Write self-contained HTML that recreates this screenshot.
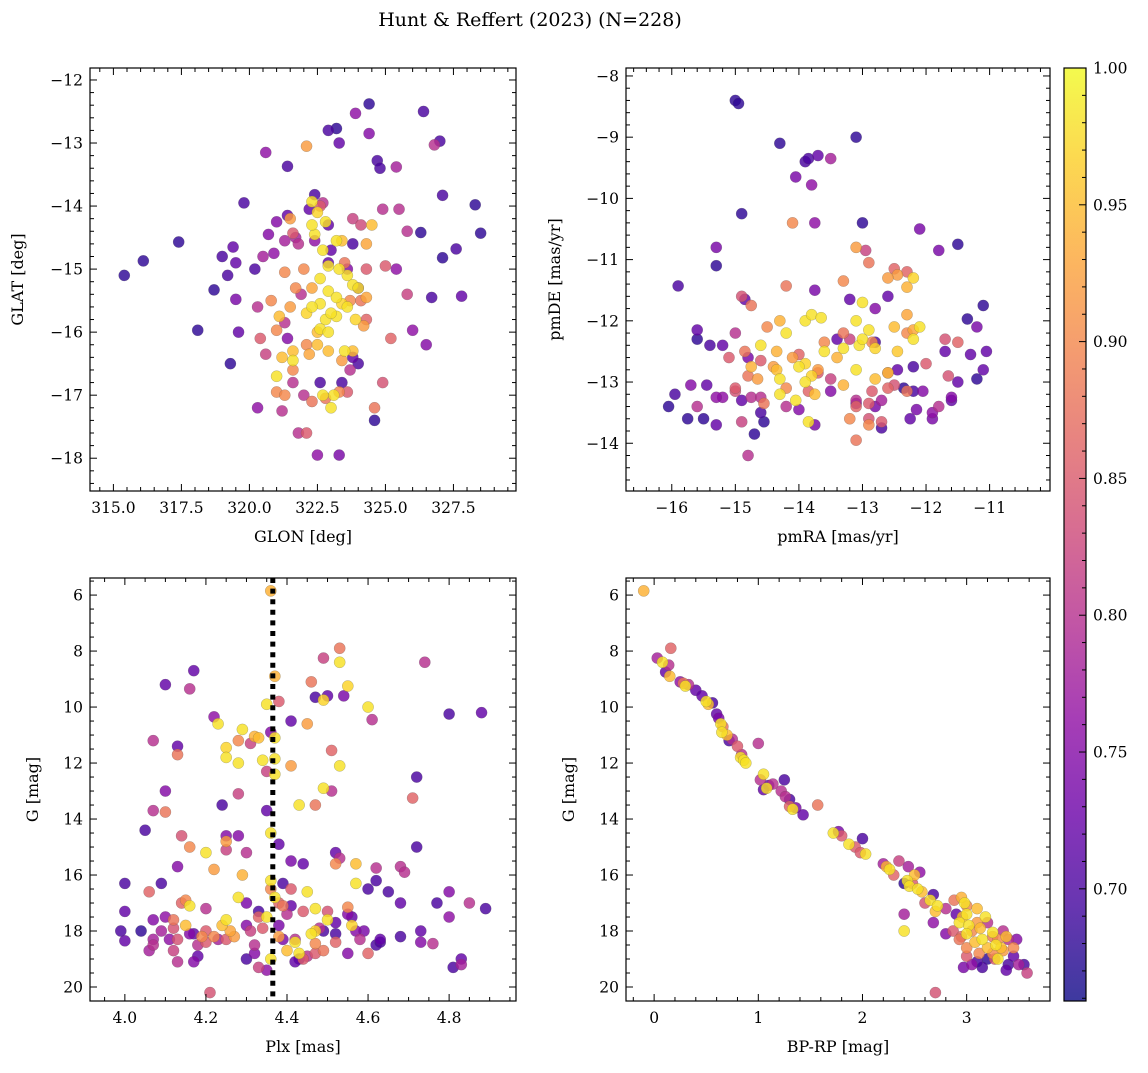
<!DOCTYPE html>
<html><head><meta charset="utf-8">
<style>
html,body{margin:0;padding:0;background:#fff;}
svg text{font-family:"DejaVu Serif","Liberation Serif",serif;fill:#000;}
</style></head>
<body>
<svg id="fig" width="1148" height="1068" viewBox="0 0 1148 1068" xmlns="http://www.w3.org/2000/svg">
<defs>
<linearGradient id="plasma" x1="0" y1="1" x2="0" y2="0">
<stop offset="0" stop-color="#0d0887"/><stop offset="0.1" stop-color="#41049d"/><stop offset="0.2" stop-color="#6a00a8"/><stop offset="0.3" stop-color="#8f0da4"/><stop offset="0.4" stop-color="#b12a90"/><stop offset="0.5" stop-color="#cc4778"/><stop offset="0.6" stop-color="#e16462"/><stop offset="0.7" stop-color="#f2844b"/><stop offset="0.8" stop-color="#fca636"/><stop offset="0.9" stop-color="#fcce25"/><stop offset="1" stop-color="#f0f921"/>
</linearGradient>
</defs>
<text x="530" y="26" font-size="19" text-anchor="middle">Hunt &amp; Reffert (2023) (N=228)</text>
</svg>
<script>
const skyPoints=[[315.4,-15.1,.68],[316.1,-14.87,.68],[317.4,-14.57,.68],[318.1,-15.97,.68],[318.7,-15.33,.68],[319.0,-14.8,.7],[319.2,-15.1,.7],[319.3,-16.5,.68],[319.4,-14.65,.72],[319.5,-14.9,.72],[319.5,-15.48,.74],[319.6,-16,.72],[319.8,-13.95,.7],[320.2,-15,.7],[320.3,-17.2,.76],[320.6,-13.15,.76],[320.7,-14.45,.75],[321.0,-14.25,.75],[321.4,-13.37,.7],[321.6,-16.8,.8],[321.8,-17.6,.8],[322.1,-17.6,.85],[322.5,-17.95,.76],[322.9,-12.8,.7],[323.2,-12.77,.68],[323.3,-17.95,.74],[323.3,-13.0,.72],[323.9,-12.53,.76],[324.4,-12.38,.68],[324.4,-12.85,.75],[324.7,-13.28,.7],[324.8,-13.4,.7],[325.4,-13.38,.78],[324.6,-17.4,.68],[326.4,-12.5,.7],[326.8,-13.03,.8],[327.0,-12.97,.7],[327.1,-13.83,.7],[327.1,-14.82,.68],[327.6,-14.68,.7],[327.8,-15.43,.72],[328.3,-13.98,.68],[328.5,-14.43,.68],[326.7,-15.45,.7],[326.3,-14.42,.68],[326.5,-16.2,.75],[326.0,-15.97,.76],[325.2,-16.1,.86],[324.9,-16.8,.84],[325.8,-15.4,.82],[325.8,-14.4,.8],[325.5,-14.05,.8],[325.0,-14.95,.85],[325.4,-15.0,.76],[323.8,-14.6,.7],[323.6,-15.0,.75],[322.9,-14.3,.72],[322.4,-14.55,.76],[322.4,-13.82,.7],[322.2,-14.05,.72],[321.8,-14.6,.8],[321.4,-14.15,.72],[321.3,-14.55,.78],[320.9,-14.75,.76],[320.5,-14.8,.78],[320.3,-15.6,.8],[321.0,-15.97,.9],[320.8,-15.5,.9],[320.4,-16.1,.85],[320.6,-16.35,.82],[321.4,-16.1,.75],[321.3,-15.85,.8],[321.9,-15.4,.8],[321.7,-15.3,.9],[322.0,-15.0,.9],[321.3,-15.05,.9],[321.1,-15.75,.95],[321.5,-15.6,.92],[321.2,-16.4,.95],[321.6,-16.3,.95],[321.6,-16.45,.98],[322.1,-16.2,.9],[322.2,-16.35,.93],[322.5,-16.2,.95],[322.9,-16.3,.95],[321.6,-16.6,.9],[321.0,-16.7,.98],[321.0,-16.95,.9],[321.2,-17.25,.8],[321.3,-17.0,.9],[322.3,-17.1,.88],[322.0,-17.0,.8],[322.6,-16.8,.7],[322.7,-17.0,.98],[323.1,-17.0,.98],[323.3,-16.95,.9],[323.6,-16.95,.85],[323.0,-17.2,.98],[322.8,-17.05,.88],[323.4,-16.8,.7],[324.6,-17.2,.88],[323.7,-16.6,.8],[323.8,-16.4,.72],[324.0,-16.5,.7],[323.8,-16.3,.95],[323.5,-16.3,.98],[323.4,-16.45,.92],[324.3,-15.8,.86],[324.1,-15.5,.88],[324.3,-15.45,.93],[323.6,-15.6,.98],[323.9,-15.8,.97],[323.4,-15.55,.97],[323.2,-15.75,.98],[322.8,-15.8,.98],[322.6,-15.55,.98],[322.3,-15.6,.98],[322.9,-15.35,.98],[323.2,-15.45,.98],[323.6,-15.1,.98],[323.8,-15.25,.98],[323.7,-15.5,.9],[324.0,-15.3,.98],[323.3,-15.0,.98],[322.7,-14.7,.98],[322.4,-14.45,.98],[322.9,-14.95,.98],[322.3,-15.3,.93],[322.6,-15.15,.98],[322.1,-15.7,.97],[322.6,-15.95,.98],[322.9,-16.0,.98],[323.0,-15.7,.98],[322.5,-16.0,.95],[324.3,-15.0,.85],[324.5,-14.3,.95],[324.3,-14.6,.93],[324.1,-14.3,.83],[323.8,-14.2,.82],[324.9,-14.05,.8],[323.2,-14.55,.98],[323.4,-14.55,.95],[322.8,-14.25,.98],[322.5,-14.1,.97],[322.3,-14.3,.98],[322.3,-13.93,.98],[322.6,-14.0,.85],[321.7,-14.5,.78],[321.5,-14.2,.92],[321.6,-14.43,.85],[322.7,-13.95,.8],[322.1,-13.05,.92],[323.0,-14.7,.72],[323.5,-14.9,.88],[324.2,-15.9,.92],[324.0,-15.3,.72],[322.9,-14.9,.72]];
const pmPoints=[[-15.0,-8.4,.68],[-14.95,-8.45,.68],[-14.3,-9.1,.68],[-13.1,-9.0,.68],[-13.9,-9.4,.7],[-13.85,-9.35,.7],[-13.7,-9.3,.72],[-13.5,-9.35,.78],[-13.8,-9.78,.76],[-14.05,-9.65,.74],[-14.9,-10.25,.68],[-13.0,-10.4,.68],[-14.1,-10.4,.9],[-13.75,-10.4,.76],[-12.1,-10.5,.74],[-15.3,-10.8,.74],[-15.3,-11.1,.68],[-11.5,-10.75,.68],[-11.8,-10.85,.74],[-15.9,-11.43,.7],[-14.9,-11.6,.84],[-14.85,-11.65,.72],[-14.75,-11.75,.88],[-14.2,-11.43,.88],[-13.75,-11.5,.74],[-13.3,-11.35,.9],[-13.1,-10.8,.92],[-12.95,-10.85,.82],[-12.9,-11.05,.88],[-12.5,-11.15,.86],[-12.45,-11.25,.92],[-12.3,-11.2,.86],[-13.2,-11.65,.72],[-12.6,-11.3,.92],[-12.3,-11.45,.94],[-12.2,-11.3,.97],[-14.3,-12.0,.94],[-13.9,-12.0,.98],[-13.8,-11.9,.98],[-13.65,-11.95,.98],[-13.0,-11.7,.98],[-13.3,-12.2,.88],[-13.4,-12.3,.72],[-12.8,-11.8,.75],[-12.6,-11.6,.72],[-12.3,-11.9,.93],[-12.1,-12.1,.98],[-11.7,-12.3,.84],[-11.7,-12.5,.72],[-11.5,-12.35,.86],[-11.2,-12.1,.74],[-11.05,-12.5,.72],[-11.3,-12.55,.72],[-11.35,-11.97,.68],[-11.1,-11.75,.68],[-11.2,-12.95,.68],[-11.1,-12.8,.72],[-11.5,-13.0,.72],[-11.6,-13.3,.72],[-11.8,-13.4,.8],[-11.9,-13.6,.74],[-11.9,-13.5,.76],[-12.2,-13.15,.7],[-12.35,-13.1,.68],[-12.45,-12.8,.72],[-12.6,-12.85,.82],[-12.6,-13.1,.86],[-12.7,-13.3,.78],[-12.8,-13.4,.74],[-12.9,-13.35,.85],[-13.1,-13.3,.8],[-13.1,-13.4,.86],[-13.3,-13.05,.94],[-13.5,-12.95,.82],[-13.5,-13.15,.75],[-13.1,-12.8,.98],[-13.6,-12.5,.98],[-13.4,-12.6,.94],[-13.1,-12.0,.98],[-13.05,-12.4,.98],[-13.0,-12.3,.98],[-12.9,-12.15,.98],[-12.8,-12.45,.97],[-12.85,-12.35,.9],[-12.5,-12.1,.95],[-12.2,-12.3,.98],[-12.3,-12.2,.9],[-12.45,-12.5,.96],[-12.2,-12.75,.7],[-12.0,-12.7,.85],[-13.9,-12.7,.97],[-14.0,-12.75,.98],[-13.8,-12.9,.97],[-13.9,-13.0,.98],[-14.1,-12.6,.92],[-14.35,-12.5,.94],[-14.4,-12.75,.92],[-14.6,-12.4,.98],[-14.5,-12.1,.9],[-14.0,-12.55,.86],[-13.7,-12.8,.92],[-13.6,-12.35,.9],[-13.3,-12.45,.98],[-13.2,-12.3,.82],[-14.2,-12.2,.98],[-14.6,-12.65,.85],[-14.8,-12.6,.74],[-14.85,-12.5,.88],[-14.75,-12.75,.94],[-14.65,-12.95,.92],[-14.35,-12.8,.95],[-14.3,-12.95,.98],[-14.2,-13.1,.9],[-14.05,-13.3,.98],[-13.85,-13.15,.86],[-13.75,-13.2,.95],[-14.2,-13.4,.8],[-14.3,-13.2,.98],[-14.0,-13.45,.75],[-13.85,-13.65,.98],[-13.7,-12.85,.85],[-15.0,-12.2,.8],[-15.2,-12.4,.72],[-15.4,-12.4,.7],[-15.6,-12.15,.72],[-15.6,-12.3,.68],[-15.1,-12.6,.85],[-14.8,-12.9,.88],[-14.75,-13.25,.8],[-14.55,-13.35,.88],[-14.55,-13.65,.68],[-14.6,-13.25,.8],[-14.9,-13.3,.72],[-14.9,-13.65,.82],[-15.0,-13.1,.85],[-15.2,-13.25,.76],[-15.3,-13.25,.76],[-15.45,-13.05,.72],[-15.75,-13.6,.68],[-15.5,-13.6,.68],[-15.6,-13.4,.8],[-15.7,-13.05,.75],[-15.95,-13.2,.7],[-16.05,-13.4,.68],[-15.3,-13.7,.72],[-15.0,-13.15,.84],[-14.6,-13.5,.7],[-14.7,-13.85,.68],[-14.8,-14.2,.8],[-13.75,-13.7,.74],[-13.1,-13.35,.74],[-13.2,-13.6,.9],[-12.9,-13.7,.9],[-12.7,-13.75,.7],[-12.7,-13.65,.85],[-12.85,-13.15,.85],[-12.5,-13.05,.84],[-12.9,-13.6,.84],[-13.1,-13.95,.88],[-12.25,-13.6,.72],[-12.15,-13.45,.74],[-12.05,-13.15,.75],[-11.6,-13.25,.75],[-11.65,-12.9,.84],[-12.8,-12.95,.95],[-12.3,-13.15,.88],[-12.2,-12.15,.93],[-12.6,-12.85,.95],[-12.8,-12.35,.7]];
const plxPoints=[[4.36,5.85,.94],[4.53,7.9,.88],[4.49,8.25,.82],[4.74,8.4,.8],[4.53,8.4,.98],[4.17,8.7,.72],[4.10,9.2,.72],[4.16,9.35,.8],[4.37,8.9,.94],[4.46,9.1,.88],[4.55,9.25,.97],[4.47,9.65,.7],[4.5,9.6,.72],[4.49,9.75,.97],[4.6,10.0,.98],[4.35,9.9,.98],[4.38,9.8,.85],[4.8,10.25,.7],[4.88,10.2,.72],[4.54,9.6,.74],[4.22,10.35,.76],[4.07,11.2,.8],[4.13,11.4,.72],[4.13,11.7,.88],[4.23,10.6,.98],[4.29,10.8,.98],[4.33,11.1,.95],[4.31,11.3,.82],[4.36,10.9,.75],[4.28,11.2,.9],[4.25,11.45,.97],[4.32,11.05,.94],[4.37,11.1,.98],[4.45,10.6,.92],[4.41,10.5,.72],[4.61,10.45,.8],[4.51,11.55,.86],[4.37,11.85,.98],[4.34,11.9,.98],[4.25,11.8,.98],[4.28,12.0,.98],[4.24,13.5,.7],[4.35,12.3,.82],[4.37,12.4,.98],[4.41,12.1,.92],[4.53,12.1,.98],[4.49,12.9,.98],[4.43,13.5,.98],[4.35,13.7,.72],[4.47,13.5,.88],[4.51,13.0,.8],[4.71,13.25,.86],[4.72,12.5,.7],[4.28,13.1,.82],[4.1,13.0,.75],[4.07,13.7,.8],[4.1,13.75,.88],[4.05,14.4,.7],[4.25,14.6,.75],[4.28,14.6,.75],[4.25,14.8,.92],[4.25,15.1,.82],[4.2,15.2,.98],[4.16,15.0,.9],[4.3,15.2,.8],[4.36,14.5,.98],[4.38,14.9,.72],[4.14,14.6,.84],[4.13,15.7,.75],[4.22,15.8,.92],[4.29,16.0,.94],[4.36,16.2,.98],[4.36,16.5,.9],[4.39,16.3,.7],[4.41,16.5,.85],[4.41,15.5,.74],[4.45,16.6,.98],[4.44,15.6,.72],[4.52,15.6,.9],[4.57,15.6,.95],[4.52,15.2,.72],[4.53,15.4,.8],[4.62,15.75,.8],[4.57,16.3,.98],[4.60,16.5,.7],[4.37,16.8,.98],[4.35,17.5,.98],[4.39,17.1,.88],[4.41,17.1,.72],[4.38,17.0,.86],[4.4,17.4,.8],[4.44,17.3,.85],[4.47,17.2,.98],[4.5,17.3,.84],[4.55,17.15,.9],[4.56,17.5,.72],[4.52,17.7,.72],[4.48,17.9,.8],[4.47,18.0,.97],[4.49,18.0,.7],[4.5,17.6,.98],[4.55,17.4,.75],[4.56,17.8,.97],[4.46,18.1,.98],[4.52,18.1,.7],[4.52,18.4,.86],[4.47,18.45,.9],[4.38,18.2,.92],[4.4,18.7,.95],[4.43,18.8,.98],[4.45,18.9,.8],[4.42,19.1,.72],[4.44,19.0,.85],[4.47,18.8,.85],[4.49,18.7,.88],[4.43,19.0,.7],[4.57,18.0,.75],[4.58,18.3,.8],[4.55,18.8,.75],[4.6,18.8,.86],[4.62,18.5,.7],[4.63,18.4,.7],[4.65,16.6,.7],[4.62,16.2,.7],[4.68,15.7,.8],[4.69,15.9,.8],[4.72,15.0,.7],[4.68,17.0,.72],[4.68,18.2,.7],[4.73,18.0,.72],[4.73,18.4,.75],[4.76,18.45,.8],[4.77,17.0,.7],[4.8,17.5,.76],[4.8,16.6,.75],[4.83,19.0,.72],[4.81,19.3,.7],[4.83,19.2,.78],[4.85,17.0,.8],[4.89,17.2,.7],[4.63,18.3,.72],[4.59,18.0,.74],[4.0,16.3,.7],[4.0,17.3,.72],[3.99,18.0,.7],[4.0,18.35,.72],[4.04,18.0,.68],[4.06,16.6,.86],[4.07,17.6,.75],[4.07,18.3,.78],[4.07,18.5,.8],[4.06,18.7,.78],[4.09,16.3,.7],[4.09,18.0,.78],[4.10,17.5,.76],[4.12,17.6,.88],[4.12,17.9,.84],[4.12,18.7,.82],[4.13,19.1,.8],[4.14,17.0,.86],[4.15,16.9,.9],[4.16,17.1,.98],[4.15,17.8,.95],[4.16,18.1,.75],[4.18,18.5,.8],[4.2,17.2,.8],[4.2,18.0,.85],[4.22,18.2,.9],[4.2,18.4,.85],[4.23,18.3,.78],[4.24,17.8,.95],[4.25,17.6,.98],[4.25,18.3,.85],[4.26,18.0,.93],[4.27,18.2,.92],[4.28,16.8,.98],[4.3,17.0,.74],[4.3,17.8,.75],[4.31,18.0,.82],[4.32,18.5,.8],[4.33,17.5,.86],[4.33,17.3,.7],[4.34,17.9,.85],[4.32,18.8,.75],[4.3,19.0,.7],[4.33,19.3,.82],[4.35,19.4,.76],[4.36,19.0,.98],[4.13,18.3,.84],[4.19,18.2,.9],[4.21,20.2,.84],[4.18,18.9,.72],[4.17,19.1,.75],[4.11,18.3,.76],[4.17,18.1,.72],[4.38,17.8,.74],[4.39,18.3,.74],[4.42,18.3,.8],[4.42,18.4,.98]];
const cmdPoints=[[-0.1,5.85,.94],[0.16,7.9,.86],[0.03,8.25,.78],[0.08,8.4,.98],[0.14,8.5,.8],[0.11,8.75,.72],[0.15,8.9,.95],[0.25,9.1,.76],[0.28,9.15,.88],[0.3,9.25,.98],[0.33,9.2,.8],[0.4,9.4,.72],[0.46,9.6,.72],[0.5,9.8,.98],[0.52,9.9,.95],[0.56,9.85,.7],[0.6,10.25,.72],[0.62,10.4,.74],[0.64,10.6,.98],[0.66,10.7,.88],[0.65,10.9,.98],[0.7,11.0,.95],[0.75,11.15,.8],[0.72,11.2,.7],[0.8,11.4,.85],[0.83,11.8,.98],[0.86,11.9,.98],[0.88,12.0,.98],[0.84,11.7,.8],[1.0,11.3,.8],[1.05,12.4,.98],[1.02,12.6,.8],[1.08,12.9,.98],[1.1,12.8,.72],[1.05,12.95,.72],[1.14,12.75,.8],[1.25,12.6,.7],[1.22,13.0,.8],[1.26,13.2,.8],[1.3,13.55,.86],[1.33,13.65,.98],[1.36,13.6,.74],[1.3,13.3,.7],[1.43,13.85,.72],[1.57,13.5,.88],[1.72,14.5,.98],[1.77,14.45,.74],[1.8,14.6,.85],[1.87,14.9,.98],[1.93,15.0,.85],[2.0,14.7,.7],[1.98,15.2,.85],[2.03,15.25,.98],[2.2,15.6,.78],[2.26,15.8,.98],[2.3,16.0,.86],[2.23,15.7,.94],[2.35,15.5,.82],[2.44,15.7,.78],[2.5,16.0,.95],[2.48,16.3,.85],[2.55,15.9,.76],[2.4,16.3,.68],[2.43,16.2,.98],[2.45,16.4,.98],[2.53,16.5,.98],[2.57,16.6,.95],[2.65,16.9,.98],[2.68,16.7,.7],[2.6,17.0,.84],[2.72,17.1,.98],[2.7,17.3,.95],[2.4,17.4,.78],[2.4,18.0,.98],[2.68,17.7,.76],[2.8,17.2,.8],[2.88,16.9,.88],[2.95,16.8,.94],[2.98,17.0,.98],[3.0,17.4,.98],[2.96,17.5,.95],[2.93,17.7,.98],[2.87,18.0,.85],[2.9,17.4,.72],[3.02,17.8,.98],[3.05,18.0,.9],[3.0,18.1,.98],[3.1,17.7,.92],[3.13,17.9,.95],[3.18,17.5,.98],[3.2,17.7,.8],[3.15,18.3,.98],[3.2,18.6,.95],[3.25,18.2,.88],[3.28,18.5,.98],[3.25,18.05,.98],[3.3,18.3,.9],[3.33,18.6,.95],[3.35,18.0,.8],[3.35,18.7,.92],[3.38,18.2,.95],[3.3,19.0,.98],[3.4,18.3,.8],[3.45,18.6,.9],[3.48,18.3,.75],[3.45,18.9,.72],[3.4,19.2,.7],[3.55,19.2,.7],[3.58,19.5,.82],[3.5,19.2,.78],[3.38,19.4,.72],[3.2,19.0,.68],[3.15,19.3,.7],[3.1,19.1,.7],[3.0,18.9,.85],[2.97,19.3,.74],[3.05,19.2,.76],[3.0,18.6,.9],[3.08,18.4,.95],[3.12,18.8,.9],[2.95,18.2,.86],[3.25,18.8,.9],[3.27,19.0,.85],[2.7,20.2,.84],[2.8,18.1,.75],[3.1,17.2,.95],[3.0,17.1,.9],[2.93,18.3,.88]];
const refPlx=4.365;
const cbarTicks=[0.70,0.75,0.80,0.85,0.90,0.95,1.00];
const cbarMin=0.659, cbarMax=1.0;

const NS='http://www.w3.org/2000/svg';
const svg=document.getElementById('fig');
function mk(tag,attrs,parent){const e=document.createElementNS(NS,tag);for(const k in attrs)e.setAttribute(k,attrs[k]);(parent||svg).appendChild(e);return e;}
const stops=['#0d0887','#41049d','#6a00a8','#8f0da4','#b12a90','#cc4778','#e16462','#f2844b','#fca636','#fcce25','#f0f921'];
function hex(h){return [1,3,5].map(i=>parseInt(h.substr(i,2),16));}
function plasma(p){let t=(p-cbarMin)/(cbarMax-cbarMin);t=Math.max(0,Math.min(1,t));const f=t*10,i=Math.min(9,Math.floor(f)),r=f-i;const a=hex(stops[i]),b=hex(stops[i+1]);return 'rgb('+a.map((v,k)=>Math.round(v+(b[k]-v)*r)).join(',')+')';}

function panel(o){
  const g=mk('g',{});
  
  
  const sx=v=>o.L+(v-o.x0)/(o.x1-o.x0)*(o.R-o.L);
  const sy=v=>o.invert? o.T+(v-o.y0)/(o.y1-o.y0)*(o.B-o.T) : o.B-(v-o.y0)/(o.y1-o.y0)*(o.B-o.T);
  const clipId='clip'+o.name;
  const cp=mk('clipPath',{id:clipId},g);mk('rect',{x:o.L,y:o.T,width:o.R-o.L,height:o.B-o.T},cp);
  const pg=mk('g',{'clip-path':'url(#'+clipId+')'},g);
  const pts=o.data.slice().sort((a,b)=>a[2]-b[2]);
  pts.forEach(d=>{
    const c=mk('circle',{cx:sx(d[0]),cy:sy(d[1]),r:5.6,fill:plasma(d[2]),'fill-opacity':0.82,stroke:'#555','stroke-width':0.35,'stroke-opacity':0.6},pg);
    
    
  });
  if(o.vline!==undefined){
    const l=mk('line',{x1:sx(o.vline),x2:sx(o.vline),y1:o.T,y2:o.B,stroke:'#000','stroke-width':5,'stroke-dasharray':'5,5.6'},g);
    
    
  }
  const tk=mk('g',{stroke:'#000','stroke-width':1},g);
  const eps=1e-9;
  for(let v=Math.ceil(o.x0/o.xm-eps)*o.xm; v<=o.x1+eps; v+=o.xm){
    const x=sx(v); const major=Math.abs(v/o.xM-Math.round(v/o.xM))<1e-6; const len=major?7:4;
    mk('line',{x1:x,x2:x,y1:o.B,y2:o.B-len},tk);mk('line',{x1:x,x2:x,y1:o.T,y2:o.T+len},tk);
    if(major){const t=mk('text',{x:x,y:o.B+22,'font-size':15.5,'text-anchor':'middle'},g);t.textContent=(Math.round(v*1000)/1000).toFixed(o.xd).replace('-','−');
      }
  }
  const ylo=Math.min(o.y0,o.y1), yhi=Math.max(o.y0,o.y1);
  for(let v=Math.ceil(ylo/o.ym-eps)*o.ym; v<=yhi+eps; v+=o.ym){
    const y=sy(v); const major=Math.abs(v/o.yM-Math.round(v/o.yM))<1e-6; const len=major?7:4;
    mk('line',{x1:o.L,x2:o.L+len,y1:y,y2:y},tk);mk('line',{x1:o.R,x2:o.R-len,y1:y,y2:y},tk);
    if(major){const t=mk('text',{x:o.L-7,y:y+5.5,'font-size':15.5,'text-anchor':'end'},g);t.textContent=(Math.round(v*1000)/1000).toFixed(o.yd).replace('-','−');
      }
  }
  const fr=mk('rect',{x:o.L,y:o.T,width:o.R-o.L,height:o.B-o.T,fill:'none',stroke:'#000','stroke-width':1.2},g);
  
  const xl=mk('text',{x:(o.L+o.R)/2,y:o.B+51,'font-size':16,'text-anchor':'middle'},g);xl.textContent=o.xlabel;
  
  const yx=o.ylx, yy=(o.T+o.B)/2;
  const yl=mk('text',{x:yx,y:yy,'font-size':16,'text-anchor':'middle',transform:'rotate(-90 '+yx+' '+yy+')'},g);yl.textContent=o.ylabel;
  
}

panel({name:'sky-panel',data:skyPoints,L:90,R:516,T:68,B:491,x0:314.14,x1:329.8,y0:-18.52,y1:-11.81,xM:2.5,xm:0.5,xd:1,yM:1,ym:0.2,yd:0,xlabel:'GLON [deg]',ylabel:'GLAT [deg]',ylx:23});
panel({name:'proper-motion-panel',data:pmPoints,L:626,R:1050,T:68,B:491,x0:-16.72,x1:-10.05,y0:-14.78,y1:-7.87,xM:1,xm:0.2,xd:0,yM:1,ym:0.2,yd:0,xlabel:'pmRA [mas/yr]',ylabel:'pmDE [mas/yr]',ylx:560});
panel({name:'parallax-panel',data:plxPoints,L:90,R:516,T:578,B:1001,x0:3.914,x1:4.965,y0:5.39,y1:20.5,invert:true,xM:0.2,xm:0.05,xd:1,yM:2,ym:0.5,yd:0,xlabel:'Plx [mas]',ylabel:'G [mag]',ylx:38,vline:refPlx});
panel({name:'cmd-panel',data:cmdPoints,L:626,R:1050,T:578,B:1001,x0:-0.27,x1:3.8,y0:5.39,y1:20.5,invert:true,xM:1,xm:0.2,xd:0,yM:2,ym:0.5,yd:0,xlabel:'BP-RP [mag]',ylabel:'G [mag]',ylx:574});

const cb=mk('g',{});


const CL=1064,CR=1086,CT=68,CB=1001;
mk('rect',{x:CL,y:CT,width:CR-CL,height:CB-CT,fill:'url(#plasma)','fill-opacity':0.8},cb);
const cy=v=>CB-(v-cbarMin)/(cbarMax-cbarMin)*(CB-CT);
for(let k=Math.ceil(cbarMin*100);k<=100;k++){
  const v=k/100,y=cy(v),major=k%5===0,len=major?7:4;
  mk('line',{x1:CR,x2:CR-len,y1:y,y2:y,stroke:'#000','stroke-width':1},cb);
}
cbarTicks.forEach(v=>{
  const t=mk('text',{x:CR+7,y:cy(v)+5.5,'font-size':15.5},cb);t.textContent=v.toFixed(2);
  
  
});
mk('rect',{x:CL,y:CT,width:CR-CL,height:CB-CT,fill:'none',stroke:'#000','stroke-width':1.2},cb);
</script>
</body></html>
